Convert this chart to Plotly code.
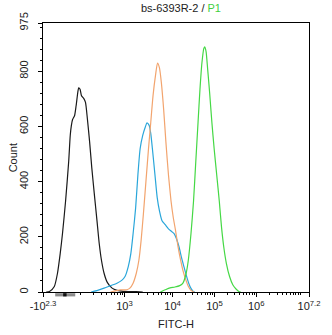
import numpy as np
import plotly.graph_objects as go

# ---------------- data ----------------
black_fitc = [-126, -79, -38, -22, -12, -5, 4, 14, 20, 25, 31, 43, 55, 71, 82, 100, 108, 122, 133,
              147, 165, 185, 211, 242, 272, 305, 349, 412, 529, 680, 950, 1764, 2399]
black_count = [0, 2, 20, 68, 139, 211, 330, 473, 568, 604, 625, 639, 675, 723, 740, 735, 711, 701, 687,
               627, 544, 449, 354, 258, 175, 115, 68, 35, 14, 6, 2, 1, 0]

blue_fitc = [179, 250, 349, 487, 680, 869, 1029, 1201, 1358, 1513, 1711, 1905, 2122, 2399, 2714, 2931,
             3264, 3524, 3807, 4305, 4796, 5340, 6039, 7042, 8211, 9574, 10962, 12410, 14290, 16180,
             18650, 21110, 24290, 27500, 31120, 34010]
blue_count = [0, 6, 14, 23, 32, 42, 56, 92, 139, 211, 306, 425, 520, 568, 598, 613, 604, 574, 520, 425,
              342, 294, 258, 244, 229, 219, 211, 193, 163, 127, 92, 62, 32, 13, 2, 0]

orange_fitc = [487, 804, 1112, 1297, 1513, 1764, 1996, 2222, 2474, 2798, 3165, 3524, 3925, 4440, 4868,
               5340, 5854, 6520, 7262, 8211, 9288, 10390, 11770, 13550, 15610, 17990, 20740, 23890,
               27500, 32480]
orange_count = [0, 8, 8, 14, 32, 68, 115, 187, 282, 401, 520, 615, 711, 788, 830, 812, 758, 663, 544,
                425, 330, 270, 223, 163, 115, 74, 44, 20, 6, 0]

green_fitc = [5591, 7042, 8868, 11360, 14810, 17670, 21110, 23750, 27500, 31680, 35850, 40580, 45110,
              50180, 55790, 58840, 63120, 68990, 76690, 86790, 98260, 113200, 130500, 147700, 167200,
              192700, 230100, 274700, 328000, 391500, 427700]
green_count = [0, 8, 15, 18, 23, 32, 68, 115, 211, 330, 473, 615, 735, 830, 883, 889, 871, 806, 723,
               615, 520, 425, 330, 235, 163, 104, 56, 26, 11, 1, 0]

x_major_values = [-10 ** 2.3, 1e3, 1e4, 1e5, 1e6, 10 ** 7.2]
x_major_labels = ["-10<sup>2.3</sup>", "10<sup>3</sup>", "10<sup>4</sup>", "10<sup>5</sup>",
                  "10<sup>6</sup>", "10<sup>7.2</sup>"]
y_tick_values = [0, 200, 400, 600, 800, 975]
linear_region = [-33, 48]   # grey marker on the axis
zero_mark = [-3, 7]

title_main = "bs-6393R-2 / "
title_gate = "P1"

# ---------------- biexponential-like display scale ----------------
ANCH_V = np.array([-10 ** 2.3, 0, 100, 1e3, 1e4, 1e5, 1e6, 10 ** 7.2])
ANCH_P = np.array([0, 22, 38.4, 84.4, 134.3, 177.7, 221, 275.7])


def g(v):
    return np.arcsinh(np.asarray(v, dtype=float) / 20.0) / np.log(10)


def to_axis(v):
    return np.interp(g(v), g(ANCH_V), ANCH_P)


minor_vals = []
for d in range(2, 8):
    for k in range(1, 10):
        val = k * 10 ** d
        if val in (1e3, 1e4, 1e5, 1e6):
            continue
        if val < 10 ** 7.2:
            minor_vals.append(val)

fig = go.Figure()
series = [
    (black_fitc, black_count, "#1a1a1a"),
    (blue_fitc, blue_count, "#2aa6da"),
    (orange_fitc, orange_count, "#f2a46e"),
    (green_fitc, green_count, "#45d845"),
]
for xs, ys, col in series:
    fig.add_trace(go.Scatter(x=to_axis(xs), y=ys, mode="lines",
                             line=dict(color=col, width=1.2, shape="spline", smoothing=0.6),
                             showlegend=False, hoverinfo="skip"))

font = "Liberation Sans, Arial, sans-serif"
fig.update_layout(
    width=332, height=335,
    margin=dict(l=43, r=13, t=18, b=43),
    paper_bgcolor="white", plot_bgcolor="white",
    font=dict(family=font, size=11, color="#222"),
    title=dict(text=title_main + '<span style="color:#3fd03f">' + title_gate + "</span>",
               x=0.545, xanchor="center", y=1 - 8 / 335, yanchor="middle",
               font=dict(size=11, color="#222", family=font)),
    xaxis=dict(range=[0, ANCH_P[-1]], showgrid=False, zeroline=False,
               showline=True, linecolor="black", linewidth=1, mirror=True,
               ticks="outside", ticklen=4, tickcolor="black", tickwidth=1,
               tickmode="array", tickvals=to_axis(x_major_values), ticktext=x_major_labels,
               tickfont=dict(size=11, color="#222"),
               minor=dict(tickmode="array", tickvals=to_axis(minor_vals), ticks="outside",
                          ticklen=2, tickcolor="black", tickwidth=1)),
    yaxis=dict(range=[0, 975], showgrid=False, zeroline=False,
               showline=True, linecolor="black", linewidth=1, mirror=True,
               ticks="outside", ticklen=4, tickcolor="black", tickwidth=1,
               tickmode="array", tickvals=y_tick_values, tickangle=-90,
               ticklabelstandoff=6,
               tickfont=dict(size=11, color="#222"),
               minor=dict(dtick=40, tick0=0, ticks="outside", ticklen=2, tickcolor="black", tickwidth=1)),
    annotations=[
        dict(text="FITC-H", xref="paper", yref="paper", x=0.5, y=-33 / 274, showarrow=False,
             xanchor="center", yanchor="middle", font=dict(size=11, color="#222")),
        dict(text="Count", xref="paper", yref="paper", x=-31.3 / 276, y=0.5, showarrow=False,
             textangle=-90, xanchor="center", yanchor="middle", font=dict(size=11, color="#222")),
    ],
    shapes=[
        dict(type="rect", xref="x", yref="paper", x0=to_axis(linear_region[0]), x1=to_axis(linear_region[1]),
             y0=-1.2 / 274, y1=-4.5 / 274, fillcolor="#8c8c8c", line=dict(width=0), layer="above"),
        dict(type="rect", xref="x", yref="paper", x0=to_axis(zero_mark[0]), x1=to_axis(zero_mark[1]),
             y0=-1.2 / 274, y1=-4.5 / 274, fillcolor="#111111", line=dict(width=0), layer="above"),
    ],
)

fig.write_html("out.html")
